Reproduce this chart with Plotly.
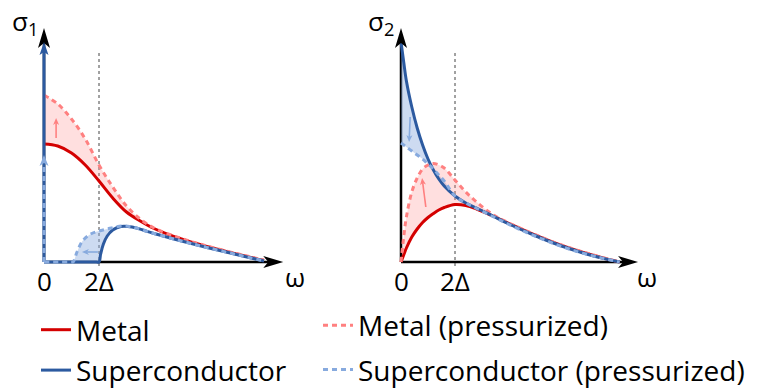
import math
import plotly.graph_objects as go

# ---------------- data (omega in units of 2Δ, conductivity in arbitrary units) -------------
# sigma_1 panel
w1_metal = [0, 0.25, 0.5, 0.75, 1.0, 1.25, 1.5, 1.75, 2.0, 2.5, 3.0, 3.5, 4.0]
s1_metal = [1.18, 1.16, 1.09, 0.97, 0.81, 0.64, 0.50, 0.41, 0.335, 0.23, 0.15, 0.08, 0.015]
s1_metal_p = [1.67, 1.58, 1.43, 1.23, 0.97, 0.75, 0.56, 0.43, 0.34, 0.235, 0.155, 0.085, 0.02]

w1_sc = [0, 0.95, 1.0, 1.03, 1.08, 1.15, 1.25, 1.4, 1.6, 1.8, 2.0, 2.5, 3.0, 3.5, 4.0]
s1_sc = [0, 0, 0, 0.08, 0.18, 0.26, 0.32, 0.355, 0.35, 0.32, 0.285, 0.21, 0.14, 0.075, 0.01]
w1_sc_p = [0, 0.5, 0.53, 0.6, 0.7, 0.85, 1.0, 1.15, 1.3, 1.45, 1.6, 1.8, 2.0, 2.5, 3.0, 3.5, 4.0]
s1_sc_p = [0, 0, 0, 0.10, 0.21, 0.28, 0.31, 0.33, 0.35, 0.36, 0.35, 0.32, 0.285, 0.21, 0.14, 0.075, 0.01]

sc_delta_weight = 2.12     # superfluid delta peak at omega = 0
sc_p_delta_weight = 1.0    # pressurized superfluid delta peak

# sigma_2 panel
w2 = [0, 0.05, 0.1, 0.2, 0.3, 0.4, 0.5, 0.6, 0.7, 0.8, 1.0, 1.2, 1.4, 1.7, 2.0, 2.5, 3.0, 3.5, 4.05]
s2_sc = [2.2, 2.0, 1.81, 1.55, 1.34, 1.17, 1.03, 0.92, 0.83, 0.76, 0.66, 0.59, 0.54, 0.46, 0.38, 0.26, 0.155, 0.07, 0.0]
s2_sc_p = [1.19, 1.17, 1.15, 1.11, 1.07, 1.03, 0.98, 0.93, 0.87, 0.81, 0.66, 0.59, 0.535, 0.455, 0.375, 0.255, 0.15, 0.068, 0.0]
s2_metal = [0, 0.07, 0.14, 0.25, 0.33, 0.395, 0.445, 0.485, 0.52, 0.545, 0.575, 0.565, 0.53, 0.46, 0.385, 0.265, 0.16, 0.075, 0.0]
s2_metal_p = [0, 0.25, 0.45, 0.70, 0.84, 0.93, 0.97, 0.985, 0.97, 0.94, 0.82, 0.70, 0.60, 0.475, 0.39, 0.27, 0.165, 0.08, 0.0]

tick_vals = [0, 1]
tick_text = ["0", "2Δ"]
legend_names = ["Metal", "Superconductor", "Metal (pressurized)", "Superconductor (pressurized)"]

# ---------------- styles ----------------
RED = "#d40000"
RED_P = "#ff8080"
BLUE = "#2c5aa0"
BLUE_P = "#87aade"
FILL_RED = "rgba(255,128,128,0.25)"
FILL_BLUE = "rgba(135,170,222,0.42)"
DASH = "5px,4px"
FONT = "Open Sans"
LW = 3
PX_PER_X = {"x": 55.0, "x2": 54.0}   # pixels per omega unit (from axis ranges/domains)
PX_PER_Y = 100.0

fig = go.Figure()


def fill_between(x_lo, y_lo, x_hi, y_hi, color, xa, ya):
    fig.add_trace(go.Scatter(x=x_lo, y=y_lo, mode="lines", line=dict(width=0, shape="spline"),
                             xaxis=xa, yaxis=ya, showlegend=False, hoverinfo="skip"))
    fig.add_trace(go.Scatter(x=x_hi, y=y_hi, mode="lines", line=dict(width=0, shape="spline"),
                             fill="tonexty", fillcolor=color, xaxis=xa, yaxis=ya,
                             showlegend=False, hoverinfo="skip"))


def curve(x, y, color, dash, xa, ya, name=None, legend=None, group=None):
    fig.add_trace(go.Scatter(x=x, y=y, mode="lines",
                             line=dict(color=color, width=LW, dash=dash, shape="spline", smoothing=1),
                             xaxis=xa, yaxis=ya, name=name, showlegend=name is not None,
                             legend=legend, legendgroup=group, hoverinfo="skip"))


# fills
fill_between(w1_metal, s1_metal, w1_metal, s1_metal_p, FILL_RED, "x", "y")
fill_between(w1_sc, s1_sc, w1_sc_p, s1_sc_p, FILL_BLUE, "x", "y")
fill_between(w2, s2_sc_p, w2, s2_sc, FILL_BLUE, "x2", "y2")
fill_between(w2, s2_metal, w2, s2_metal_p, FILL_RED, "x2", "y2")

# sigma_1 curves
curve(w1_metal, s1_metal, RED, "solid", "x", "y", legend_names[0], "legend", "a")
curve(w1_metal, s1_metal_p, RED_P, DASH, "x", "y", legend_names[2], "legend2", "c")
curve(w1_sc, s1_sc, BLUE, "solid", "x", "y", legend_names[1], "legend", "b")
fig.add_trace(go.Scatter(x=[0, 0], y=[0, sc_delta_weight], mode="lines",
                         line=dict(color=BLUE, width=LW), showlegend=False, hoverinfo="skip"))
curve(w1_sc_p, s1_sc_p, BLUE_P, DASH, "x", "y", legend_names[3], "legend2", "d")
fig.add_trace(go.Scatter(x=[0, 0], y=[0, sc_p_delta_weight], mode="lines",
                         line=dict(color=BLUE_P, width=LW, dash=DASH), showlegend=False, hoverinfo="skip"))

# sigma_2 curves
curve(w2, s2_metal, RED, "solid", "x2", "y2")
curve(w2, s2_metal_p, RED_P, DASH, "x2", "y2")
curve(w2, s2_sc, BLUE, "solid", "x2", "y2")
curve(w2, s2_sc_p, BLUE_P, DASH, "x2", "y2")

shapes = []
annotations = []


def head(xref, yref, x, y, angle, color, L=20, W=5, notch=5):
    """Arrowhead (pixel-sized path) with its tip at data point (x, y); angle in radians, 0 = right, pi/2 = up."""
    pts = [(0, 0), (-L, W), (-L + notch, 0), (-L, -W)]
    c, s = math.cos(angle), math.sin(angle)
    rp = [(px * c - py * s, px * s + py * c) for px, py in pts]
    path = "M" + " L".join(f"{a:.2f},{b:.2f}" for a, b in rp) + " Z"
    shapes.append(dict(type="path", xref=xref, yref=yref, xsizemode="pixel", ysizemode="pixel",
                       xanchor=x, yanchor=y, path=path, fillcolor=color,
                       line=dict(width=0), layer="above"))


def small_arrow(xref, yref, tail, tip, color, width=1.6, L=7, W=3, notch=2):
    sx = PX_PER_X[xref]
    dx = (tip[0] - tail[0]) * sx
    dy = (tip[1] - tail[1]) * PX_PER_Y
    ang = math.atan2(dy, dx)
    back = (L - notch) * 0.8
    ex = tip[0] - back * math.cos(ang) / sx
    ey = tip[1] - back * math.sin(ang) / PX_PER_Y
    shapes.append(dict(type="line", xref=xref, yref=yref, x0=tail[0], y0=tail[1], x1=ex, y1=ey,
                       line=dict(color=color, width=width), layer="above"))
    head(xref, yref, tip[0], tip[1], ang, color, L=L, W=W, notch=notch)


UP = math.pi / 2
for xr, yr, xend in [("x", "y", 4.35), ("x2", "y2", 4.39)]:
    shapes.append(dict(type="line", xref=xr, yref=yr, x0=0, x1=xend - 0.2, y0=0, y1=0,
                       line=dict(color="black", width=2.5), layer="below"))
    shapes.append(dict(type="line", xref=xr, yref=yr, x0=0, x1=0, y0=0, y1=2.2,
                       line=dict(color="black", width=2.5), layer="below"))
    shapes.append(dict(type="line", xref=xr, yref=yr, x0=1, x1=1, y0=-0.04, y1=2.12,
                       line=dict(color="#444444", width=1, dash="dot"), layer="below"))
    head(xr, yr, xend, 0, 0, "black", L=20, W=6, notch=5)
    head(xr, yr, 0, 2.34, UP, "black", L=20, W=6, notch=5)

# delta function arrowheads
head("x", "y", 0, sc_delta_weight + 0.08, UP, BLUE, L=13, W=4.5, notch=3)
head("x", "y", 0, sc_p_delta_weight + 0.07, UP, BLUE_P, L=11, W=4.5, notch=3)

# small arrows showing the change under pressure
small_arrow("x", "y", (0.22, 1.24), (0.22, 1.44), RED_P)
small_arrow("x", "y", (0.98, 0.10), (0.69, 0.10), BLUE_P)
small_arrow("x2", "y2", (0.17, 1.45), (0.15, 1.20), BLUE_P)
small_arrow("x2", "y2", (0.46, 0.55), (0.39, 0.84), RED_P)

# text labels
tf = dict(family=FONT, size=26, color="black")
for xr, yr, lab, wx in [("x", "y", "σ<sub>1</sub>", -0.345), ("x2", "y2", "σ<sub>2</sub>", -0.37)]:
    annotations.append(dict(xref=xr, yref=yr, x=wx, y=2.61, yanchor="top", text=lab,
                            showarrow=False, font=tf))
    for tv, tt in zip(tick_vals, tick_text):
        annotations.append(dict(xref=xr, yref=yr, x=tv, y=-0.19, text=tt, showarrow=False, font=tf))
    annotations.append(dict(xref=xr, yref=yr, x=4.56, y=-0.15, text="ω", showarrow=False, font=tf))

ax_common = dict(visible=False, showgrid=False, zeroline=False, fixedrange=True)
fig.update_layout(
    width=758, height=390, margin=dict(l=0, r=0, t=0, b=0, autoexpand=False),
    paper_bgcolor="white", plot_bgcolor="white",
    xaxis=dict(domain=[0, 0.5], range=[-0.8, 6.0909], anchor="y", **ax_common),
    yaxis=dict(domain=[0, 1], range=[-1.28, 2.62], anchor="x", **ax_common),
    xaxis2=dict(domain=[0.5, 1], range=[-0.4074, 6.6111], anchor="y2", **ax_common),
    yaxis2=dict(domain=[0, 1], range=[-1.28, 2.62], anchor="x2", **ax_common),
    shapes=shapes, annotations=annotations,
    legend=dict(x=36 / 758, y=(390 - 305) / 390, xanchor="left", yanchor="top",
                font=dict(family=FONT, size=28, color="black"), tracegroupgap=1,
                bgcolor="rgba(0,0,0,0)", itemwidth=30),
    legend2=dict(x=318 / 758, y=(390 - 300.5) / 390, xanchor="left", yanchor="top",
                 font=dict(family=FONT, size=28, color="black"), tracegroupgap=5,
                 bgcolor="rgba(0,0,0,0)", itemwidth=30),
)

fig.write_html("out.html")
